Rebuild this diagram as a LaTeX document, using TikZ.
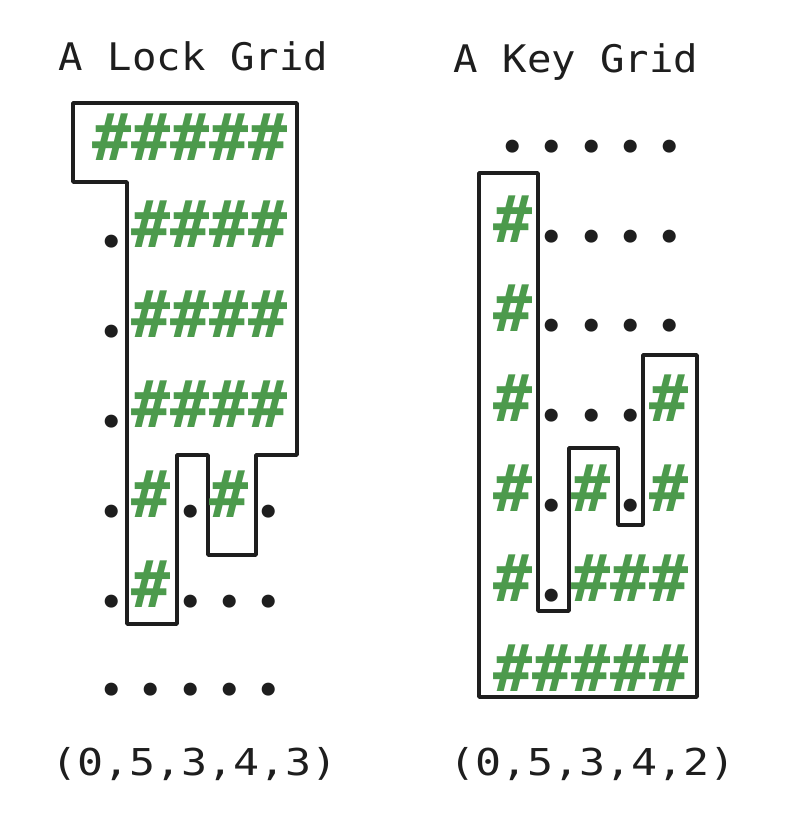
\documentclass[tikz,border=0pt]{standalone}
\usepackage{fontspec}
\usepackage{graphicx}
\setmonofont{DejaVu Sans Mono}
\newfontfamily\gridfont{DejaVu Sans Mono}[BoldFont={DejaVu Sans Mono Bold}]
\newfontfamily\dotfont{Lato}
\definecolor{hgreen}{RGB}{76,154,76}
\definecolor{ink}{RGB}{30,30,30}
\newcommand{\hsh}{\textcolor{hgreen}{\#}}
\newcommand{\dt}{\makebox[0.602em][c]{\dotfont\bfseries\fontsize{86}{86}\selectfont .}}
\tikzset{
  gridrow/.style={anchor=base west, inner sep=0pt, outer sep=0pt, text=ink,
    font=\gridfont\bfseries\fontsize{65}{65}\selectfont},
  title/.style={anchor=base, inner sep=0pt, text=ink,
    font=\ttfamily\fontsize{38}{38}\selectfont},
  tuple/.style={anchor=base, inner sep=0pt, text=ink,
    font=\ttfamily\fontsize{37}{37}\selectfont},
  outline/.style={draw=ink, line width=3.5pt, line join=round, line cap=round}
}
\begin{document}
\begin{tikzpicture}[x=1pt,y=-1pt]
\useasboundingbox[fill=white] (0,0) rectangle (790,838);

% titles
\node[title] (locktitle) at (193.5,70) {\scalebox{1.07}[1]{A Lock Grid}};
\node[title] (keytitle) at (576,72) {\scalebox{1.07}[1]{A Key Grid}};

% lock outline
\draw[outline] (73,103) -- (297,103) -- (297,455) -- (256,455) -- (256,555)
  -- (208,555) -- (208,455) -- (177,455) -- (177,624) -- (127,624)
  -- (127,182) -- (73,182) -- cycle;

% key outline
\draw[outline] (479,173) -- (538,173) -- (538,611) -- (569,611) -- (569,448)
  -- (618,448) -- (618,525) -- (643,525) -- (643,355) -- (697,355)
  -- (697,697) -- (479,697) -- cycle;

% lock rows
\node[gridrow] (l0) at (92.4,160) {\hsh\hsh\hsh\hsh\hsh};
\node[gridrow] (l1) at (92.4,247) {\dt\hsh\hsh\hsh\hsh};
\node[gridrow] (l2) at (92.4,337) {\dt\hsh\hsh\hsh\hsh};
\node[gridrow] (l3) at (92.4,427) {\dt\hsh\hsh\hsh\hsh};
\node[gridrow] (l4) at (92.4,517) {\dt\hsh\dt\hsh\dt};
\node[gridrow] (l5) at (92.4,607) {\dt\hsh\dt\dt\dt};
\node[gridrow] (l6) at (92.4,695) {\dt\dt\dt\dt\dt};

% key rows
\node[gridrow] (k0) at (493.4,152) {\dt\dt\dt\dt\dt};
\node[gridrow] (k1) at (493.4,242) {\hsh\dt\dt\dt\dt};
\node[gridrow] (k2) at (493.4,331) {\hsh\dt\dt\dt\dt};
\node[gridrow] (k3) at (493.4,421) {\hsh\dt\dt\dt\hsh};
\node[gridrow] (k4) at (493.4,511) {\hsh\dt\hsh\dt\hsh};
\node[gridrow] (k5) at (493.4,601) {\hsh\dt\hsh\hsh\hsh};
\node[gridrow] (k6) at (493.4,691) {\hsh\hsh\hsh\hsh\hsh};

% tuples
\node[tuple] (locktuple) at (194.5,775) {\scalebox{1.17}[1]{(0,5,3,4,3)}};
\node[tuple] (keytuple) at (592.5,775) {\scalebox{1.17}[1]{(0,5,3,4,2)}};
\end{tikzpicture}
\end{document}
